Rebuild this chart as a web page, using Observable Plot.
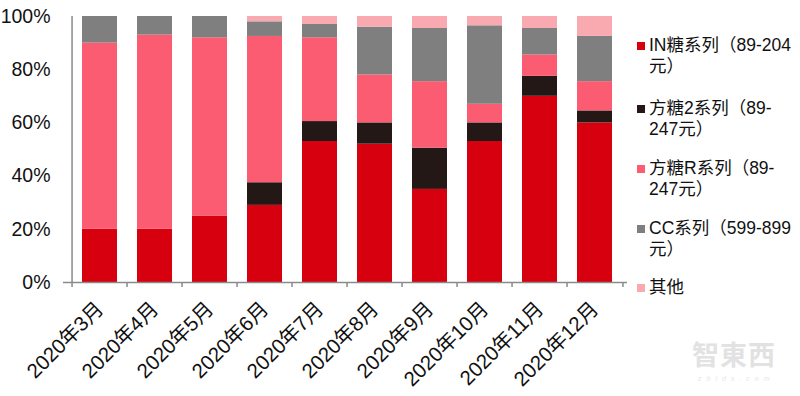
<!DOCTYPE html>
<html><head><meta charset="utf-8">
<script src="https://cdn.jsdelivr.net/npm/d3@7"></script>
<script src="https://cdn.jsdelivr.net/npm/@observablehq/plot@0.6"></script>
<style>
body{margin:0;background:#fff;font-family:"Liberation Sans",Arial,"Noto Sans CJK SC",sans-serif;}
#wrap{position:relative;width:800px;height:396px;overflow:hidden;}
.item{position:absolute;left:637px;font-size:17.5px;line-height:21px;color:#111;white-space:nowrap;}
.sw{position:absolute;left:0;top:7px;width:8px;height:8px;}
.txt{position:absolute;left:12px;top:0;}
#wm{position:absolute;left:692px;top:340px;line-height:28px;height:28px;color:#e2e2e2;font-family:"Noto Sans CJK TC",sans-serif;font-size:27px;font-weight:bold;letter-spacing:1px;}
#wm2{position:absolute;left:698px;top:375px;line-height:8px;height:8px;color:#e6e6e6;font-size:7px;letter-spacing:5px;font-style:italic;}
</style></head><body><div id="wrap"></div>
<script>
const months = ["2020年3月","2020年4月","2020年5月","2020年6月","2020年7月","2020年8月","2020年9月","2020年10月","2020年11月","2020年12月"];
const seriesNames = ["IN糖系列（89-204元）","方糖2系列（89-247元）","方糖R系列（89-247元）","CC系列（599-899元）","其他"];
const legendLines = [["IN糖系列（89-204","元）"],["方糖2系列（89-","247元）"],["方糖R系列（89-","247元）"],["CC系列（599-899","元）"],["其他"]];
const inTang    = [20, 20, 25, 29,   53,   52, 35,   53,   70,  60];
const fangTang2 = [0,  0,  0,  8.5,  7.5,  8,  15.5, 7,    7.5, 4.5];
const fangTangR = [70, 73, 67, 55,   31.5, 18, 25,   7,    8,   11];
const ccSeries  = [10, 7,  8,  5.5,  5,    18, 20,   29.5, 10,  17];
const other     = [0,  0,  0,  2,    3,    4,  4.5,  3.5,  4.5, 7.5];
const yTicks = [0, 20, 40, 60, 80, 100];
const colors = ["#d7000f", "#231815", "#fb5c71", "#7f7f7f", "#f8aab0"];

const seriesValues = [inTang, fangTang2, fangTangR, ccSeries, other];
const data = [];
months.forEach((m, i) => seriesNames.forEach((s, k) => data.push({month: m, series: s, value: seriesValues[k][i]})));

const W = 800, H = 396, ML = 68, MR = 173, MT = 16, MB = 114;
const step = (W - ML - MR) / months.length;
const axisColor = "#8a8a8a";

const chart = Plot.plot({
  width: W, height: H, marginLeft: ML, marginRight: MR, marginTop: MT, marginBottom: MB,
  x: {domain: months, paddingInner: 0.36, paddingOuter: 0.18, label: null},
  y: {domain: [0, 100], label: null},
  color: {domain: seriesNames, range: colors},
  style: {fontFamily: '"Liberation Sans", Arial, "Noto Sans CJK SC", sans-serif', fontSize: "19px", color: "#111", background: "#fff"},
  marks: [
    Plot.barY(data, {x: "month", y: "value", fill: "series"}),
    Plot.axisY({ticks: yTicks, tickFormat: d => d + "%", tickSize: 0, tickPadding: 18, fontSize: 19.5, label: null}),
    Plot.axisX({tickSize: 0, tickPadding: 23, tickRotate: -45, fontSize: 20.5, label: null}),
    Plot.ruleX([months[0]], {x: d => d, y1: 0, y2: 100, dx: -step / 2, stroke: axisColor, strokeWidth: 1.5}),
    Plot.ruleY([0], {stroke: axisColor, strokeWidth: 1.5, insetLeft: -5}),
    Plot.ruleX(months, {x: d => d, y1: 0, y2: 0, dx: -step / 2, insetBottom: -5, stroke: axisColor, strokeWidth: 1.5}),
    Plot.ruleX([months[months.length - 1]], {x: d => d, y1: 0, y2: 0, dx: step / 2, insetBottom: -5, stroke: axisColor, strokeWidth: 1.5})
  ]
});
const wrap = document.getElementById("wrap");
wrap.appendChild(chart);

const tops = [34.5, 97.5, 157.5, 217.5, 276.5];
legendLines.forEach((lines, k) => {
  const it = document.createElement("div");
  it.className = "item";
  it.style.top = tops[k] + "px";
  const sw = document.createElement("div");
  sw.className = "sw"; sw.style.background = colors[k];
  const tx = document.createElement("div");
  tx.className = "txt";
  tx.innerHTML = lines.join("<br>");
  it.appendChild(sw); it.appendChild(tx);
  wrap.appendChild(it);
});
const wm = document.createElement("div"); wm.id = "wm"; wm.textContent = "智東西"; wrap.appendChild(wm);
const wm2 = document.createElement("div"); wm2.id = "wm2"; wm2.textContent = "zhidx.com"; wrap.appendChild(wm2);
</script></body></html>
